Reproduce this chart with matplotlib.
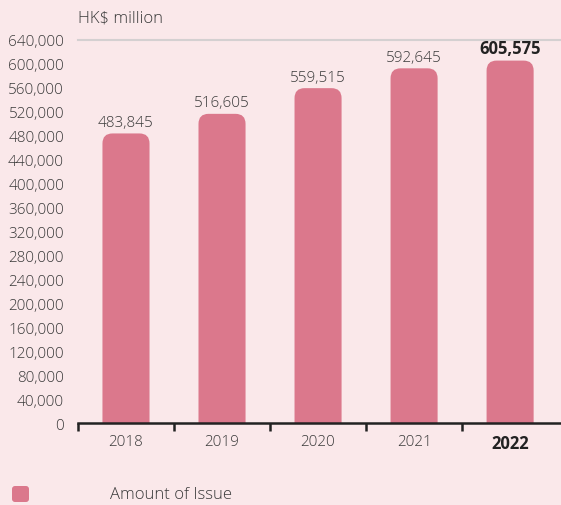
import matplotlib.pyplot as plt
from matplotlib.patches import FancyBboxPatch

years = ["2018", "2019", "2020", "2021", "2022"]
amounts = [483845, 516605, 559515, 592645, 605575]
yticks = list(range(0, 640001, 40000))

BG = "#FAE8EA"
BAR = "#DB788C"
TXT = "#3a3a3a"

plt.rcParams["font.family"] = ["Open Sans", "DejaVu Sans"]

fig = plt.figure(figsize=(5.61, 5.06), dpi=100, facecolor=BG)
ax = fig.add_axes([0.139, 0.162, 0.861, 0.757], facecolor=BG)

x = list(range(len(years)))
bars = ax.bar(x, amounts, width=0.49, color=BAR)
ax.set_xlim(-0.5, 4.53)
ax.set_ylim(0, 640000)

# rounded tops: swap each bar for a rounded box whose bottom sits below zero
px_x = 1 / 96.0
px_y = 640000 / 383.0
for b in bars:
    b.set_visible(False)
    r = FancyBboxPatch((b.get_x(), -30000), b.get_width(), b.get_height() + 30000,
                       boxstyle="round,pad=0,rounding_size=%f" % (10 * px_x),
                       mutation_aspect=px_y / px_x,
                       facecolor=BAR, edgecolor="none", clip_on=True)
    ax.add_patch(r)

for i, v in enumerate(amounts):
    bold = i == len(amounts) - 1
    ax.text(i, v + 6000, f"{v:,}", ha="center", va="bottom",
            fontsize=12 if bold else 11,
            color="#222222" if bold else TXT, fontweight="bold" if bold else "light")

ax.axhline(640000, color="#d4d0d1", lw=1.5, clip_on=False)

for s in ["top", "right", "left"]:
    ax.spines[s].set_visible(False)
ax.spines["bottom"].set_color("#222222")
ax.spines["bottom"].set_linewidth(1.8)

ax.set_yticks(yticks)
ax.set_yticklabels([f"{t:,}" for t in yticks], fontsize=11, color=TXT, fontweight="light")
ax.tick_params(axis="y", length=0, pad=10)

ax.set_xticks(x)
ax.set_xticklabels(years, fontsize=11, color=TXT, fontweight="light")
ax.get_xticklabels()[-1].set_fontweight("bold")
ax.get_xticklabels()[-1].set_fontsize(12)
ax.get_xticklabels()[-1].set_color("#222222")
ax.tick_params(axis="x", length=0, pad=8)
ax.set_xticks([-0.5, 0.5, 1.5, 2.5, 3.5], minor=True)
ax.tick_params(axis="x", which="minor", length=6, width=1.8, color="#222222", direction="out")

fig.text(78 / 561, 1 - 18 / 506, "HK$ million", fontsize=12, color=TXT,
         fontweight="light", va="center", ha="left")

# legend
fig.patches.append(FancyBboxPatch((12 / 561, 1 - 503 / 506), 17 / 561, 16 / 506,
                                  boxstyle="round,pad=0,rounding_size=%f" % (3 / 561),
                                  mutation_aspect=561 / 506,
                                  transform=fig.transFigure, facecolor=BAR, edgecolor="none"))
fig.text(110 / 561, 1 - 495 / 506, "Amount of Issue", fontsize=12, color=TXT,
         fontweight="light", va="center", ha="left")

fig.savefig("out.png", dpi=100, facecolor=BG)
